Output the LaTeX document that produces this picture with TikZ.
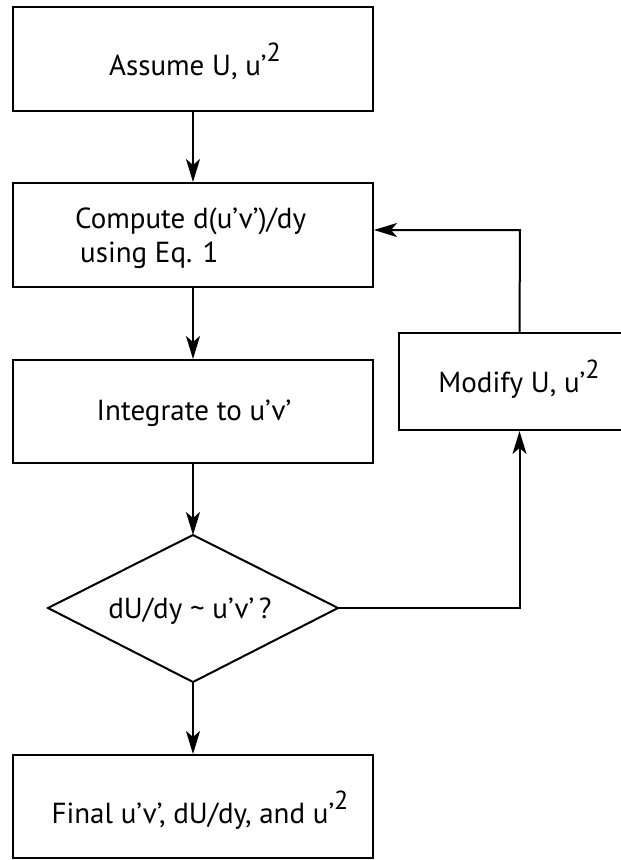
\documentclass[tikz,border=0pt]{standalone}
\usepackage{fontspec}
\setmainfont{PT Sans}
\usetikzlibrary{arrows.meta}
\newcommand{\sqtwo}{\raisebox{0.45em}{\scalebox{0.9}{2}}}
\begin{document}
\begin{tikzpicture}[x=1pt,y=-1pt,
  box/.style={draw, line width=2pt, inner sep=0pt, minimum width=360pt},
  txt/.style={inner sep=0pt, anchor=base, font=\fontsize{29}{34}\selectfont},
  conn/.style={line width=2pt, -{Stealth[length=23pt,width=14pt,inset=6pt]}},
  plain/.style={line width=2pt}]
\useasboundingbox (0,0) rectangle (621,860);
% boxes
\node[box, minimum height=104pt] (b1) at (193,59) {};
\node[box, minimum height=104pt] (b2) at (193,235) {};
\node[box, minimum height=103pt] (b3) at (193,411.5) {};
\node[box, minimum height=103pt] (b4) at (193,806.5) {};
\node[box, minimum width=241pt, minimum height=97pt] (mod) at (519.5,381.5) {};
% diamond
\coordinate (dtop) at (193,535);
\coordinate (dright) at (338,608);
\coordinate (dbot) at (193,682);
\coordinate (dleft) at (48,608);
\draw[plain, line join=miter] (dtop) -- (dright) -- (dbot) -- (dleft) -- cycle;
% texts
\node[txt] (t1) at (195,75) {Assume U, u’\sqtwo};
\node[txt, anchor=base west] (t2a) at (75,228) {Compute d(u’v’)/dy};
\node[txt, anchor=base west] (t2b) at (80,262) {using Eq. 1};
\node[txt] (t3) at (194,420) {Integrate to u’v’};
\node[txt] (tm) at (519,392) {Modify U, u’\sqtwo};
\node[txt] (td) at (190,618) {dU/dy \char"007E{} u’v’\,?};
\node[txt] (t4) at (200,823) {Final u’v’, dU/dy, and u’\sqtwo};
% connectors
\draw[conn] (b1.south) -- (b2.north);
\draw[conn] (b2.south) -- (b3.north);
\draw[conn] (b3.south) -- (dtop);
\draw[conn] (dbot) -- (b4.north);
\draw[conn] (dright) -| (mod.south);
\coordinate (loop) at (520,230);
\draw[conn] (mod.north) -- (loop) -- (b2.east |- loop);
\end{tikzpicture}
\end{document}
